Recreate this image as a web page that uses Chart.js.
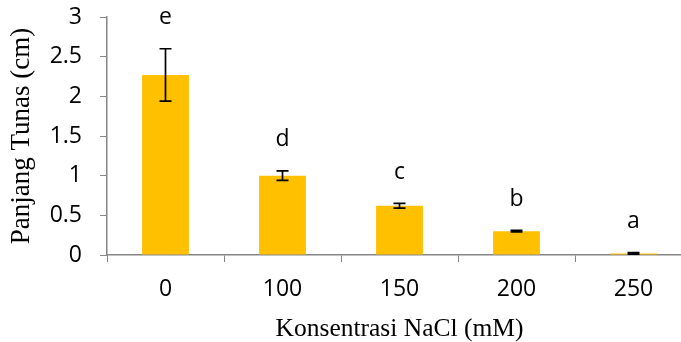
<!DOCTYPE html>
<html>
<head>
<meta charset="utf-8">
<script src="https://cdn.jsdelivr.net/npm/chart.js@4"></script>
<style>
  html, body { margin: 0; padding: 0; background: #fff; overflow: hidden; }
</style>
</head>
<body>
<canvas id="myChart" width="692" height="342"></canvas>
<script>
let konsentrasi = ['0', '100', '150', '200', '250'];
let panjang = [2.27, 1.00, 0.62, 0.30, 0.02];
let galat = [0.33, 0.06, 0.03, 0.01, 0.01];
let huruf = ['e', 'd', 'c', 'b', 'a'];
let yTicks = [0, 0.5, 1, 1.5, 2, 2.5, 3];

const axisColor = '#868686';
const sansFont = '"Open Sans", sans-serif';
const serifFont = '"Liberation Serif", serif';

// error bars + letters above them
const extras = {
    id: 'extras',
    afterDatasetsDraw(chart) {
        const ctx = chart.ctx, x = chart.scales.x, y = chart.scales.y;
        ctx.save();
        ctx.strokeStyle = '#000';
        ctx.lineWidth = 1.7;
        for (let i = 0; i < panjang.length; i++) {
            let px = x.getPixelForValue(i),
                top = y.getPixelForValue(panjang[i] + galat[i]),
                bot = y.getPixelForValue(panjang[i] - galat[i]);
            ctx.beginPath();
            ctx.moveTo(px, top); ctx.lineTo(px, bot);
            ctx.moveTo(px - 6, top); ctx.lineTo(px + 6, top);
            ctx.moveTo(px - 6, bot); ctx.lineTo(px + 6, bot);
            ctx.stroke();

            ctx.fillStyle = '#000';
            ctx.font = '23px ' + sansFont;
            ctx.textAlign = 'center';
            ctx.textBaseline = 'middle';
            ctx.fillText(huruf[i], px, top - 31);
        }
        ctx.restore();
    }
};

const ctx = document.getElementById('myChart').getContext('2d');

const myChart = new Chart(ctx, {
    type: 'bar',
    data: {
        labels: konsentrasi,
        datasets: [{
            data: panjang,
            backgroundColor: '#FFC000',
            borderWidth: 0,
            categoryPercentage: 1,
            barPercentage: 0.4
        }]
    },
    options: {
        responsive: false,
        animation: false,
        layout: { padding: { top: 17, right: 0, left: 0, bottom: 0 } },
        plugins: {
            legend: { display: false },
            tooltip: { enabled: false }
        },
        scales: {
            x: {
                offset: true,
                grid: {
                    offset: true,
                    drawOnChartArea: false,
                    color: axisColor,
                    tickLength: 7,
                    tickColor: axisColor
                },
                border: { color: axisColor, width: 1.5 },
                ticks: {
                    color: '#000',
                    padding: 14,
                    font: { family: sansFont, size: 23 }
                },
                title: {
                    display: true,
                    text: 'Konsentrasi NaCl (mM)',
                    color: '#000',
                    font: { family: serifFont, size: 25.5, lineHeight: 1 },
                    padding: { top: 0, bottom: 0 }
                },
                afterFit: s => { s.height = 87; s.paddingLeft = 0; s.paddingRight = 0; }
            },
            y: {
                min: 0,
                max: 3,
                afterBuildTicks: s => { s.ticks = yTicks.map(v => ({ value: v })); },
                grid: {
                    drawOnChartArea: false,
                    color: axisColor,
                    tickLength: 7,
                    tickColor: axisColor
                },
                border: { color: axisColor, width: 1.5 },
                ticks: {
                    color: '#000',
                    padding: 18,
                    callback: v => String(v),
                    font: { family: sansFont, size: 23 }
                },
                title: {
                    display: true,
                    text: 'Panjang Tunas (cm)',
                    color: '#000',
                    font: { family: serifFont, size: 27 },
                    padding: { top: 6, bottom: 0 }
                },
                afterFit: s => { s.width = 107; s.paddingTop = 0; s.paddingBottom = 0; }
            }
        }
    },
    plugins: [extras]
});
</script>
</body>
</html>
